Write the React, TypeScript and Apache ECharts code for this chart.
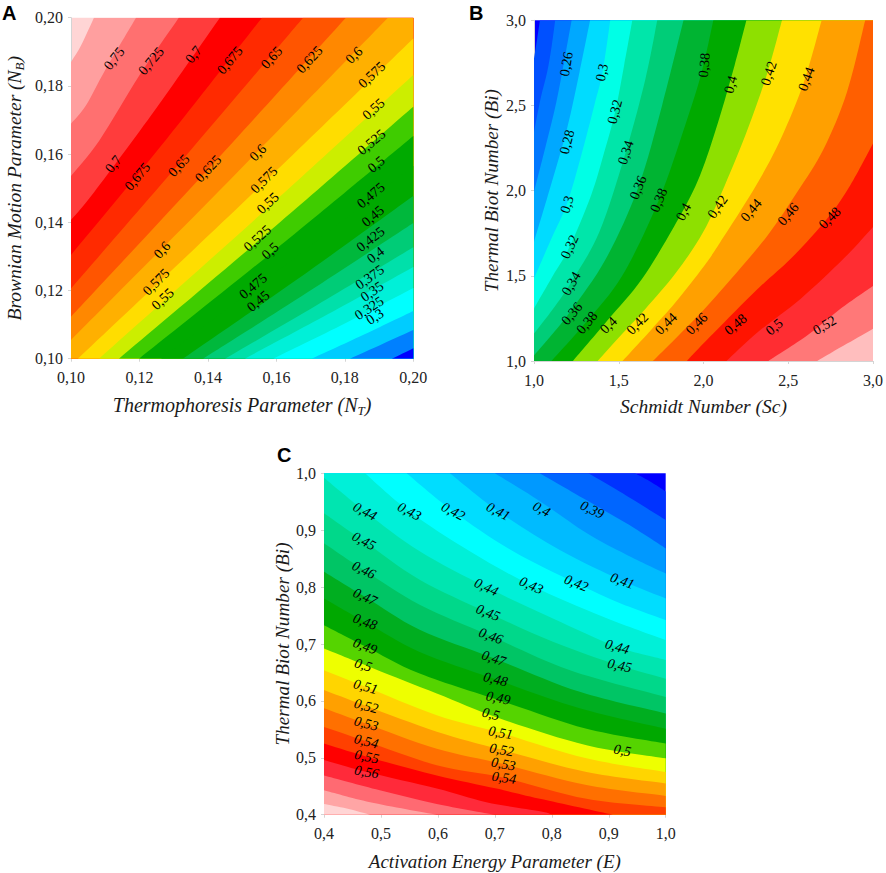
import React, { useEffect, useRef } from "react";
import * as echarts from "echarts";

type P = number[];

// ---------- Panel A: boundary lines of the filled bands (N_T, N_B) ----------
const contoursA: P[][] = [
  [[0.1, 0.187], [0.103, 0.192], [0.1067, 0.2]],
  [[0.1, 0.1689], [0.1044, 0.1743], [0.1102, 0.185], [0.119, 0.2]],
  [[0.1, 0.1536], [0.1083, 0.164], [0.12, 0.1831], [0.1315, 0.2]],
  [[0.1, 0.1407], [0.1068, 0.1489], [0.1248, 0.1733], [0.1435, 0.2]],
  [[0.1, 0.1304], [0.128, 0.1645], [0.1558, 0.2]],
  [[0.1, 0.1206], [0.134, 0.16], [0.1678, 0.2]],
  [[0.1, 0.1123], [0.14, 0.1555], [0.1803, 0.2]],
  [[0.1, 0.1055], [0.146, 0.152], [0.1926, 0.2]],
  [[0.102, 0.1], [0.15, 0.1455], [0.2, 0.1939]],
  [[0.1082, 0.1], [0.155, 0.142], [0.2, 0.1832]],
  [[0.114, 0.1], [0.157, 0.1365], [0.2, 0.1739]],
  [[0.1199, 0.1], [0.16, 0.1322], [0.2, 0.1653]],
  [[0.1263, 0.1], [0.163, 0.1278], [0.2, 0.1565]],
  [[0.1327, 0.1], [0.166, 0.1232], [0.2, 0.1477]],
  [[0.1386, 0.1], [0.169, 0.1194], [0.2, 0.1398]],
  [[0.145, 0.1], [0.172, 0.1158], [0.2, 0.1327]],
  [[0.1508, 0.1], [0.175, 0.113], [0.2, 0.1269]],
  [[0.1591, 0.1], [0.18, 0.1103], [0.2, 0.1207]],
  [[0.1703, 0.1], [0.185, 0.1068], [0.2, 0.114]],
  [[0.1815, 0.1], [0.191, 0.1043], [0.2, 0.1084]],
  [[0.1937, 0.1], [0.2, 0.1031]],
];
const colorsA = [
  "#ffd5d5", "#ff9f9f", "#ff7070", "#ff3c3c", "#ff0000", "#ff2a00", "#ff5500", "#ff8800", "#ffb000",
  "#ffdd00", "#ccee00", "#3fcc00", "#00aa00", "#00aa00", "#00b83c", "#00cc77", "#00e0aa", "#00f0d8",
  "#00ffff", "#00ccff", "#0080ff", "#0000ff",
];
const labelsA: [number, number, string, number][] = [
  [0.1126, 0.188, "0,75", 52], [0.1234, 0.1873, "0,725", 50], [0.1358, 0.1892, "0,7", 52],
  [0.1464, 0.1875, "0,675", 50], [0.1586, 0.1883, "0,65", 48], [0.1697, 0.1877, "0,625", 47],
  [0.1827, 0.189, "0,6", 45], [0.1879, 0.1832, "0,575", 43], [0.1884, 0.1732, "0,55", 42],
  [0.1878, 0.1635, "0,525", 40], [0.1892, 0.157, "0,5", 40], [0.1876, 0.1479, "0,475", 40],
  [0.1882, 0.1418, "0,45", 40], [0.1875, 0.135, "0,425", 38], [0.189, 0.1304, "0,4", 38],
  [0.1873, 0.1239, "0,375", 35], [0.188, 0.1197, "0,35", 35], [0.1871, 0.1148, "0,325", 33],
  [0.1888, 0.1123, "0,3", 33], [0.1124, 0.1571, "0,7", 52], [0.1194, 0.1534, "0,675", 50],
  [0.1315, 0.1566, "0,65", 48], [0.1401, 0.1557, "0,625", 47], [0.1546, 0.1604, "0,6", 45],
  [0.1564, 0.1524, "0,575", 45], [0.1575, 0.1456, "0,55", 43], [0.1545, 0.1353, "0,525", 42],
  [0.1582, 0.1316, "0,5", 42], [0.1532, 0.1213, "0,475", 40], [0.1547, 0.1169, "0,45", 40],
  [0.1266, 0.1319, "0,6", 47], [0.1249, 0.1225, "0,575", 45], [0.1268, 0.1175, "0,55", 43],
];

// ---------- Panel B: (Sc, Bi) ----------
const contoursB: P[][] = [
  [[1, 2.776], [1.019, 2.893], [1.035, 3]],
  [[1, 2.345], [1.039, 2.541], [1.078, 2.698], [1.105, 2.854], [1.125, 3]],
  [[1, 1.993], [1.07, 2.267], [1.132, 2.521], [1.181, 2.776], [1.222, 3]],
  [[1, 1.699], [1.094, 2.012], [1.195, 2.365], [1.269, 2.698], [1.331, 3]],
  [[1, 1.484], [1.103, 1.719], [1.195, 1.924], [1.279, 2.208], [1.356, 2.502], [1.405, 2.698], [1.45, 3]],
  [[1, 1.307], [1.113, 1.503], [1.21, 1.67], [1.337, 1.973], [1.415, 2.228], [1.479, 2.463], [1.532, 2.737], [1.58, 3]],
  [[1, 1.161], [1.113, 1.307], [1.22, 1.464], [1.386, 1.758], [1.542, 2.228], [1.658, 2.658], [1.727, 3]],
  [[1, 1.033], [1.094, 1.141], [1.22, 1.298], [1.425, 1.601], [1.616, 2.022], [1.756, 2.502], [1.882, 3]],
  [[1.103, 1], [1.308, 1.229], [1.522, 1.503], [1.736, 1.944], [1.892, 2.384], [1.99, 2.698], [2.058, 3]],
  [[1.23, 1], [1.434, 1.239], [1.639, 1.484], [1.853, 1.836], [1.98, 2.091], [2.087, 2.404], [2.184, 2.737], [2.253, 3]],
  [[1.376, 1], [1.522, 1.161], [1.658, 1.307], [1.834, 1.513], [1.999, 1.758], [2.126, 2.032], [2.262, 2.365], [2.379, 2.698], [2.463, 3]],
  [[1.522, 1], [1.697, 1.19], [1.834, 1.343], [1.999, 1.552], [2.087, 1.679], [2.311, 2.032], [2.457, 2.306], [2.593, 2.639], [2.697, 3]],
  [[1.701, 1], [1.834, 1.131], [1.999, 1.298], [2.165, 1.484], [2.379, 1.738], [2.554, 1.993], [2.71, 2.247], [2.847, 2.58], [2.954, 3]],
  [[1.902, 1], [1.97, 1.072], [2.301, 1.405], [2.516, 1.601], [2.73, 1.836], [2.866, 2.032], [3, 2.277]],
  [[2.136, 1], [2.321, 1.17], [2.574, 1.366], [2.827, 1.601], [3, 1.787]],
  [[2.383, 1], [2.613, 1.151], [2.808, 1.307], [3, 1.441]],
  [[2.671, 1], [2.847, 1.102], [3, 1.19]],
];
const colorsB = [
  "#0000ff", "#0050ff", "#0078ff", "#00a8ff", "#00dcff", "#00ffe6", "#00e6aa", "#00cd78", "#00b432",
  "#00aa00", "#8ee000", "#ffe100", "#ffa000", "#ff5f00", "#ff1400", "#ff2d32", "#ff7878", "#ffbebe",
];
const labelsB: [number, number, string, number][] = [
  [1.191, 2.743, "0,26", 80], [1.195, 2.286, "0,28", 75], [1.195, 1.918, "0,3", 72], [1.21, 1.67, "0,32", 65],
  [1.22, 1.454, "0,34", 60], [1.224, 1.278, "0,36", 50], [1.312, 1.225, "0,38", 50], [1.44, 1.21, "0,4", 45],
  [1.61, 1.219, "0,42", 45], [1.779, 1.219, "0,44", 45], [1.96, 1.219, "0,46", 45], [2.19, 1.215, "0,48", 40],
  [2.418, 1.2, "0,5", 40], [2.714, 1.21, "0,52", 30], [1.401, 2.694, "0,3", 78], [1.477, 2.463, "0,32", 75],
  [1.542, 2.224, "0,34", 72], [1.614, 2.018, "0,36", 68], [1.736, 1.944, "0,38", 68], [1.882, 1.875, "0,4", 62],
  [2.005, 2.737, "0,38", 85], [2.161, 2.623, "0,4", 75], [2.385, 2.688, "0,42", 72], [2.607, 2.655, "0,44", 70],
  [2.083, 1.905, "0,42", 55], [2.282, 1.885, "0,44", 50], [2.5, 1.862, "0,46", 50], [2.745, 1.84, "0,48", 45],
];

// ---------- Panel C: (E, Bi) ----------
const contoursC: P[][] = [
  [[0.946, 1], [0.972, 0.986], [1, 0.968]],
  [[0.864, 1], [0.919, 0.968], [1, 0.918]],
  [[0.779, 1], [0.855, 0.956], [0.931, 0.912], [1, 0.868]],
  [[0.7, 1], [0.779, 0.951], [0.861, 0.895], [0.931, 0.857], [1, 0.824]],
  [[0.621, 1], [0.706, 0.933], [0.814, 0.865], [0.924, 0.811], [1, 0.78]],
  [[0.545, 1], [0.627, 0.933], [0.732, 0.863], [0.843, 0.807], [0.919, 0.772], [1, 0.742]],
  [[0.472, 1], [0.55, 0.933], [0.656, 0.863], [0.764, 0.803], [0.89, 0.748], [1, 0.707]],
  [[0.4, 0.992], [0.472, 0.933], [0.568, 0.863], [0.685, 0.8], [0.802, 0.745], [0.915, 0.695], [1, 0.672]],
  [[0.4, 0.93], [0.47, 0.881], [0.568, 0.813], [0.688, 0.755], [0.802, 0.704], [0.919, 0.662], [1, 0.639]],
  [[0.4, 0.877], [0.47, 0.83], [0.568, 0.769], [0.693, 0.714], [0.832, 0.654], [1, 0.607]],
  [[0.4, 0.827], [0.472, 0.783], [0.568, 0.725], [0.698, 0.675], [0.849, 0.616], [1, 0.578]],
  [[0.4, 0.78], [0.472, 0.739], [0.568, 0.686], [0.701, 0.638], [0.849, 0.587], [1, 0.551]],
  [[0.4, 0.733], [0.472, 0.696], [0.568, 0.648], [0.726, 0.595], [0.861, 0.551], [1, 0.525]],
  [[0.4, 0.692], [0.487, 0.657], [0.598, 0.613], [0.709, 0.569], [0.861, 0.522], [1, 0.499]],
  [[0.4, 0.654], [0.473, 0.625], [0.598, 0.575], [0.71, 0.544], [0.861, 0.499], [1, 0.475]],
  [[0.4, 0.619], [0.474, 0.591], [0.598, 0.546], [0.712, 0.514], [0.861, 0.475], [1, 0.455]],
  [[0.4, 0.587], [0.474, 0.56], [0.598, 0.516], [0.715, 0.489], [0.861, 0.452], [1, 0.433]],
  [[0.4, 0.554], [0.474, 0.529], [0.598, 0.487], [0.716, 0.465], [0.861, 0.428], [1, 0.413]],
  [[0.4, 0.525], [0.475, 0.502], [0.598, 0.469], [0.703, 0.446], [0.779, 0.428], [0.907, 0.4]],
  [[0.4, 0.496], [0.475, 0.475], [0.598, 0.446], [0.685, 0.422], [0.779, 0.406], [0.8, 0.4]],
  [[0.4, 0.469], [0.498, 0.443], [0.598, 0.419], [0.7, 0.4]],
  [[0.4, 0.443], [0.481, 0.422], [0.598, 0.4]],
  [[0.4, 0.419], [0.44, 0.411], [0.481, 0.4]],
];
const colorsC = [
  "#0000ff", "#0033ff", "#0066ff", "#0099ff", "#00bbff", "#00ddff", "#00ffff", "#00f0d8", "#00e5b0",
  "#00d88a", "#00c565", "#00ae20", "#00a800", "#55d400", "#eeff00", "#ffd500", "#ffa000", "#ff7000",
  "#ff4000", "#ff0000", "#ff2a3a", "#ff6a72", "#ffa5a5", "#ffd5d5",
];
const labelsC: [number, number, string, number][] = [
  [0.472, 0.933, "0,44", -28], [0.55, 0.933, "0,43", -28], [0.627, 0.933, "0,42", -28], [0.706, 0.933, "0,41", -28],
  [0.782, 0.937, "0,4", -28], [0.871, 0.936, "0,39", -25], [0.47, 0.881, "0,45", -28], [0.47, 0.83, "0,46", -26],
  [0.472, 0.783, "0,47", -24], [0.472, 0.739, "0,48", -20], [0.472, 0.696, "0,49", -20], [0.469, 0.663, "0,5", -18],
  [0.473, 0.625, "0,51", -15], [0.474, 0.591, "0,52", -15], [0.474, 0.56, "0,53", -14], [0.474, 0.529, "0,54", -14],
  [0.475, 0.502, "0,55", -12], [0.475, 0.475, "0,56", -10], [0.685, 0.8, "0,44", -25], [0.688, 0.755, "0,45", -22],
  [0.693, 0.714, "0,46", -20], [0.698, 0.675, "0,47", -18], [0.701, 0.638, "0,48", -14], [0.706, 0.605, "0,49", -12],
  [0.693, 0.577, "0,5", -14], [0.71, 0.544, "0,51", -10], [0.712, 0.514, "0,52", -10], [0.715, 0.489, "0,53", -10],
  [0.716, 0.465, "0,54", -8], [0.764, 0.803, "0,43", -24], [0.843, 0.807, "0,42", -22], [0.924, 0.811, "0,41", -20],
  [0.915, 0.695, "0,44", -16], [0.919, 0.662, "0,45", -12], [0.924, 0.513, "0,5", -10],
];

const ticksA = { min: 0.1, max: 0.2, interval: 0.02, digits: 2 };
const ticksBx = { min: 1, max: 3, interval: 0.5, digits: 1 };
const ticksC = { min: 0.4, max: 1, interval: 0.1, digits: 1 };

const SERIF = "'Liberation Serif', 'Times New Roman', serif";
const AXIS_GREY = "#d4d4d4";

function splinePath(pts: number[][]): string {
  let d = "";
  for (let i = 0; i < pts.length - 1; i++) {
    const p0 = pts[Math.max(i - 1, 0)];
    const p1 = pts[i];
    const p2 = pts[i + 1];
    const p3 = pts[Math.min(i + 2, pts.length - 1)];
    const c1 = [p1[0] + (p2[0] - p0[0]) / 6, p1[1] + (p2[1] - p0[1]) / 6];
    const c2 = [p2[0] - (p3[0] - p1[0]) / 6, p2[1] - (p3[1] - p1[1]) / 6];
    d += `C${c1[0].toFixed(2)} ${c1[1].toFixed(2)} ${c2[0].toFixed(2)} ${c2[1].toFixed(2)} ${p2[0].toFixed(2)} ${p2[1].toFixed(2)}`;
  }
  return d;
}

// Position on the frame going clockwise from the top-left corner.
function framePos(p: P, x0: number, x1: number, y0: number, y1: number): number {
  const e = [Math.abs(p[1] - y1) / (y1 - y0), Math.abs(p[0] - x1) / (x1 - x0), Math.abs(p[1] - y0) / (y1 - y0), Math.abs(p[0] - x0) / (x1 - x0)];
  const side = e.indexOf(Math.min(...e));
  if (side === 0) return (p[0] - x0) / (x1 - x0);
  if (side === 1) return 1 + (y1 - p[1]) / (y1 - y0);
  if (side === 2) return 2 + (x1 - p[0]) / (x1 - x0);
  return 3 + (p[1] - y0) / (y1 - y0);
}

function bandSeries(idx: number, contours: P[][], colors: string[], xr: number[], yr: number[]) {
  const [x0, x1] = xr;
  const [y0, y1] = yr;
  const corners: P[] = [[x0, y1], [x1, y1], [x1, y0], [x0, y0]];
  return {
    type: "custom",
    coordinateSystem: "cartesian2d",
    xAxisIndex: idx,
    yAxisIndex: idx,
    clip: true,
    silent: true,
    z: 2,
    data: contours.map((c) => c[0]),
    renderItem: (params: any, api: any) => {
      const line = contours[params.dataIndex];
      const a = framePos(line[0], x0, x1, y0, y1);
      const b = framePos(line[line.length - 1], x0, x1, y0, y1);
      const start = a <= b ? a + 4 : a;
      const closing: P[] = [];
      for (let k = Math.floor(b) + 1; k < start; k++) closing.push(corners[k % 4]);
      const px = line.map((p) => api.coord(p));
      let d = `M${px[0][0].toFixed(2)} ${px[0][1].toFixed(2)}` + splinePath(px);
      closing.forEach((c) => {
        const q = api.coord(c);
        d += `L${q[0].toFixed(2)} ${q[1].toFixed(2)}`;
      });
      d += "Z";
      return { type: "path", shape: { pathData: d }, style: { fill: colors[params.dataIndex + 1], stroke: null } };
    },
  };
}

function labelSeries(idx: number, labels: [number, number, string, number][], italic: boolean) {
  return {
    type: "custom",
    coordinateSystem: "cartesian2d",
    xAxisIndex: idx,
    yAxisIndex: idx,
    clip: false,
    silent: true,
    z: 6,
    data: labels.map((l) => [l[0], l[1]]),
    renderItem: (params: any, api: any) => {
      const l = labels[params.dataIndex];
      const p = api.coord([l[0], l[1]]);
      return {
        type: "text",
        x: p[0],
        y: p[1],
        rotation: (l[3] * Math.PI) / 180,
        style: {
          text: l[2],
          fill: "#000",
          font: `${italic ? "italic " : ""}14px ${SERIF}`,
          textAlign: "center",
          textVerticalAlign: "middle",
        },
      };
    },
  };
}

function axis(
  t: { min: number; max: number; interval: number; digits: number },
  idx: number,
  name: string,
  gap: number,
  isY: boolean,
  titleSize: number,
) {
  return {
    type: "value",
    gridIndex: idx,
    min: t.min,
    max: t.max,
    interval: t.interval,
    name,
    nameLocation: "middle",
    nameGap: gap,
    nameRotate: isY ? 90 : 0,
    nameTextStyle: {
      rich: {
        a: { fontFamily: SERIF, fontStyle: "italic", fontSize: titleSize, color: "#1a1a1a", lineHeight: 24 },
        s: { fontFamily: SERIF, fontStyle: "italic", fontSize: 13, color: "#1a1a1a", lineHeight: 24, verticalAlign: "bottom" },
      },
    },
    axisLine: { show: true, onZero: false, lineStyle: { color: AXIS_GREY, width: 1 } },
    axisTick: { show: true, length: 3, inside: false, lineStyle: { color: AXIS_GREY, width: 1 } },
    axisLabel: {
      fontFamily: SERIF,
      fontSize: 16,
      color: "#222",
      margin: isY ? 8 : 11,
      showMinLabel: true,
      showMaxLabel: true,
      formatter: (v: number) => v.toFixed(t.digits).replace(".", ","),
    },
    splitLine: { show: false },
  };
}

export default function App() {
  const ref = useRef<HTMLDivElement>(null);
  useEffect(() => {
    const chart = echarts.init(ref.current!, null, { renderer: "svg" });
    const bg = (c: string) => ({ show: true, backgroundColor: c, borderWidth: 0 });
    const letter = "bold 20px 'Liberation Sans', Arial, sans-serif";
    chart.setOption({
      animation: false,
      backgroundColor: "#fff",
      grid: [
        { left: 71, top: 17.7, width: 342.3, height: 341, ...bg(colorsA[0]) },
        { left: 534, top: 20.3, width: 342.3, height: 340.7, ...bg(colorsB[0]) },
        { left: 324, top: 473.3, width: 341.7, height: 341.4, ...bg(colorsC[0]) },
      ],
      xAxis: [
        axis(ticksA, 0, "{a|Thermophoresis Parameter (N}{s|T}{a|)}", 34, false, 20),
        axis(ticksBx, 1, "{a|Schmidt Number (Sc)}", 33, false, 19.5),
        axis(ticksC, 2, "{a|Activation Energy Parameter (E)}", 35, false, 19),
      ],
      yAxis: [
        axis(ticksA, 0, "{a|Brownian Motion Parameter (N}{s|B}{a|)}", 45, true, 19.5),
        axis(ticksBx, 1, "{a|Thermal Biot Number (Bi)}", 31, true, 19.2),
        axis(ticksC, 2, "{a|Thermal Biot Number (Bi)}", 30, true, 19.2),
      ],
      series: [
        bandSeries(0, contoursA, colorsA, [0.1, 0.2], [0.1, 0.2]),
        bandSeries(1, contoursB, colorsB, [1, 3], [1, 3]),
        bandSeries(2, contoursC, colorsC, [0.4, 1], [0.4, 1]),
        labelSeries(0, labelsA, false),
        labelSeries(1, labelsB, false),
        labelSeries(2, labelsC, true),
      ],
      graphic: [
        { type: "text", x: 2, y: 3, style: { text: "A", fill: "#000", font: letter } },
        { type: "text", x: 469, y: 3, style: { text: "B", fill: "#000", font: letter } },
        { type: "text", x: 277, y: 445, style: { text: "C", fill: "#000", font: letter } },
      ],
    });
    return () => chart.dispose();
  }, []);
  return <div ref={ref} style={{ position: "absolute", left: 0, top: 0, width: 886, height: 873 }} />;
}
